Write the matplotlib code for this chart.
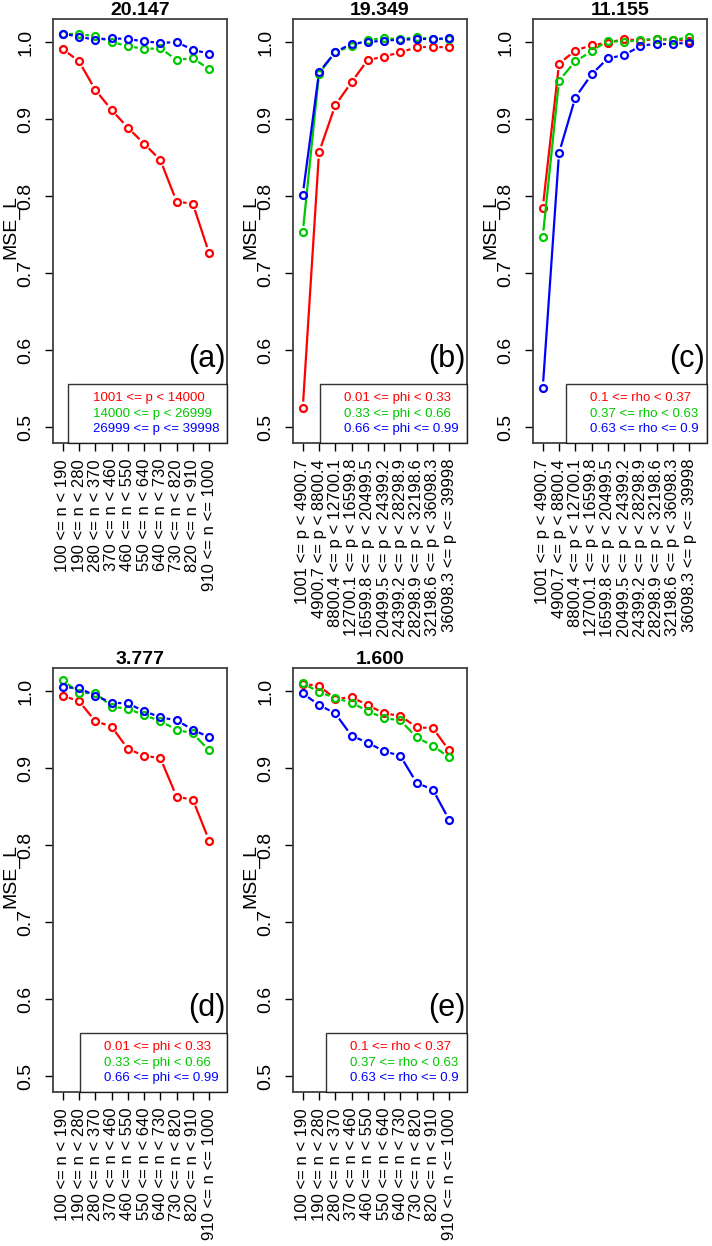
import numpy as np
import matplotlib
matplotlib.use("Agg")
import matplotlib.pyplot as plt
from matplotlib.lines import Line2D

plt.rcParams['font.family'] = ['Liberation Sans', 'DejaVu Sans']

# x tick labels
n_labels = ["100 <= n < 190", "190 <= n < 280", "280 <= n < 370", "370 <= n < 460",
            "460 <= n < 550", "550 <= n < 640", "640 <= n < 730", "730 <= n < 820",
            "820 <= n < 910", "910 <= n <= 1000"]
p_labels = ["1001 <= p < 4900.7", "4900.7 <= p < 8800.4", "8800.4 <= p < 12700.1",
            "12700.1 <= p < 16599.8", "16599.8 <= p < 20499.5", "20499.5 <= p < 24399.2",
            "24399.2 <= p < 28298.9", "28298.9 <= p < 32198.6", "32198.6 <= p < 36098.3",
            "36098.3 <= p <= 39998"]

titles = ["20.147", "19.349", "11.155", "3.777", "1.600"]
tags = ["(a)", "(b)", "(c)", "(d)", "(e)"]

legend_p = ["1001 <= p < 14000", "14000 <= p < 26999", "26999 <= p <= 39998"]
legend_phi = ["0.01 <= phi < 0.33", "0.33 <= phi < 0.66", "0.66 <= phi <= 0.99"]
legend_rho = ["0.1 <= rho < 0.37", "0.37 <= rho < 0.63", "0.63 <= rho <= 0.9"]

# panel (a): grouped by p, x = n
a_red = [0.991, 0.975, 0.938, 0.912, 0.889, 0.868, 0.847, 0.793, 0.790, 0.726]
a_green = [1.010, 1.010, 1.008, 1.000, 0.995, 0.991, 0.992, 0.977, 0.979, 0.965]
a_blue = [1.011, 1.007, 1.003, 1.005, 1.004, 1.001, 0.999, 1.000, 0.990, 0.985]

# panel (b): grouped by phi, x = p
b_red = [0.525, 0.857, 0.918, 0.948, 0.977, 0.981, 0.987, 0.993, 0.993, 0.994]
b_green = [0.753, 0.959, 0.987, 0.995, 1.003, 1.005, 1.004, 1.006, 1.004, 1.004]
b_blue = [0.802, 0.961, 0.987, 0.998, 1.000, 1.002, 1.003, 1.004, 1.004, 1.005]

# panel (c): grouped by rho, x = p
c_red = [0.785, 0.972, 0.989, 0.996, 0.999, 1.004, 1.002, 1.004, 1.003, 1.002]
c_green = [0.747, 0.950, 0.975, 0.988, 1.002, 1.000, 1.003, 1.004, 1.003, 1.006]
c_blue = [0.551, 0.856, 0.928, 0.958, 0.979, 0.983, 0.995, 0.998, 0.998, 0.999]

# panel (d): grouped by phi, x = n
d_red = [0.994, 0.987, 0.961, 0.954, 0.925, 0.916, 0.913, 0.863, 0.859, 0.806]
d_green = [1.014, 0.998, 0.998, 0.980, 0.977, 0.969, 0.961, 0.950, 0.945, 0.923]
d_blue = [1.005, 1.004, 0.994, 0.985, 0.984, 0.974, 0.966, 0.962, 0.950, 0.940]

# panel (e): grouped by rho, x = n
e_red = [1.009, 1.007, 0.990, 0.992, 0.982, 0.971, 0.968, 0.953, 0.952, 0.923]
e_green = [1.010, 0.999, 0.991, 0.985, 0.974, 0.965, 0.962, 0.940, 0.929, 0.914]
e_blue = [0.997, 0.982, 0.971, 0.942, 0.933, 0.922, 0.916, 0.881, 0.872, 0.833]

colors = ["red", "#00C800", "blue"]

W, H = 712, 1246
fig = plt.figure(figsize=(W / 100, H / 100), dpi=100)


def draw_b(ax, x, y, color, gap=6.4):
    # R type="b": points joined by lines that stop short of each point
    pts = ax.transData.transform(np.column_stack([x, y]))
    inv = ax.transData.inverted()
    for i in range(len(pts) - 1):
        p0, p1 = pts[i], pts[i + 1]
        d = p1 - p0
        L = np.hypot(*d)
        if L <= 2 * gap:
            continue
        u = d / L
        seg = inv.transform(np.array([p0 + u * gap, p1 - u * gap]))
        ax.plot(seg[:, 0], seg[:, 1], color=color, lw=1.6, solid_capstyle='butt')
    ax.plot(x, y, linestyle='none', marker='o', ms=5, mew=1.6,
            mfc='none', mec=color)


def panel(left, top, series, xlabels, title, tag, leg_labels):
    w, h = 174, 424
    ax = fig.add_axes([left / W, (H - top - h) / H, w / W, h / H])
    ax.set_xlim(0.4, 11.1)
    ax.set_ylim(0.4795, 1.030)
    x = np.arange(1, len(xlabels) + 1)
    for ys, c in zip(series, colors):
        draw_b(ax, x, ys, c)
    ax.set_xticks(x)
    ax.set_xticklabels(xlabels, rotation=90, fontsize=12)
    ax.set_yticks([0.5, 0.6, 0.7, 0.8, 0.9, 1.0])
    ax.set_yticklabels(["0.5", "0.6", "0.7", "0.8", "0.9", "1.0"], fontsize=14,
                       rotation=90, va='center')
    ax.tick_params(axis='x', length=5.5, width=1, pad=6, direction='out')
    ax.tick_params(axis='y', length=5.5, width=1, pad=8, direction='out')
    for s in ax.spines.values():
        s.set_color('#404040')
        s.set_linewidth(1.3)
    ax.set_ylabel("MSE_L", fontsize=14)
    ax.yaxis.set_label_coords(-0.195, 0.51)
    ax.set_title(title, fontsize=14, fontweight='bold', pad=0)
    ax.text(0.99, 0.162, tag, transform=ax.transAxes, ha='right', va='bottom',
            fontsize=22)
    handles = [Line2D([], [], color='none') for _ in leg_labels]
    leg = ax.legend(handles, leg_labels, loc='lower right', borderaxespad=0,
                    fontsize=9.5, frameon=True, fancybox=False,
                    handlelength=1.0, handletextpad=0.25, borderpad=0.6,
                    labelspacing=0.25)
    leg.get_frame().set_edgecolor('black')
    leg.get_frame().set_linewidth(1.0)
    for t, c in zip(leg.get_texts(), colors):
        t.set_color(c)
    return ax


panel(53, 19, [a_red, a_green, a_blue], n_labels, titles[0], tags[0], legend_p)
panel(293, 19, [b_red, b_green, b_blue], p_labels, titles[1], tags[1], legend_phi)
panel(533, 19, [c_red, c_green, c_blue], p_labels, titles[2], tags[2], legend_rho)
panel(53, 668, [d_red, d_green, d_blue], n_labels, titles[3], tags[3], legend_phi)
panel(293, 668, [e_red, e_green, e_blue], n_labels, titles[4], tags[4], legend_rho)

fig.savefig("out.png", dpi=100)
